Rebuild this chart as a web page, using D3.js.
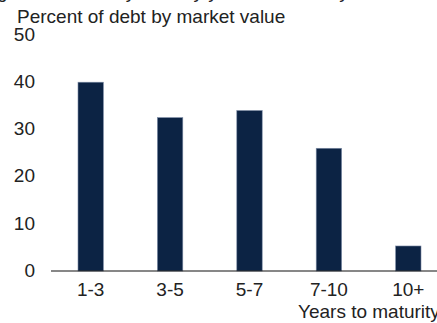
<!DOCTYPE html>
<html>
<head>
<meta charset="utf-8">
<script src="https://cdn.jsdelivr.net/npm/d3@7"></script>
<style>
  body { margin: 0; background: #fff; }
  svg { display: block; font-family: "Liberation Sans", Arial, sans-serif; }
</style>
</head>
<body>
<div id="chart"></div>
<script>
// data
var categories = ["1-3", "3-5", "5-7", "7-10", "10+"];
var values = [40, 32.5, 34, 26, 5.3];
var yTicks = [0, 10, 20, 30, 40, 50];

var width = 437, height = 323;
var barFill = "#0c2344"; // dark navy
var textFill = "#222";

var svg = d3.select("#chart").append("svg")
  .attr("width", width)
  .attr("height", height);

// plot runs past the right edge, like the source
var x = d3.scaleBand()
  .domain(categories)
  .range([51, 448])
  .paddingInner(0.68)
  .paddingOuter(0.34);

var y = d3.scaleLinear()
  .domain([0, 50])
  .range([271, 35]);

// clipped title line at the very top, only descenders show
svg.append("text")
  .attr("x", -3)
  .attr("y", -2)
  .attr("font-size", "19px")
  .attr("fill", textFill)
  .text("gure 3. Treasury debt by years to maturity");

svg.append("text")
  .attr("x", 17)
  .attr("y", 23)
  .attr("font-size", "19px")
  .attr("fill", textFill)
  .text("Percent of debt by market value");

// y labels, no axis line
svg.selectAll("text.ytick")
  .data(yTicks)
  .enter()
  .append("text")
  .attr("class", "ytick")
  .attr("x", 35)
  .attr("y", d => y(d))
  .attr("dy", "0.3em")
  .attr("text-anchor", "end")
  .attr("font-size", "19px")
  .attr("fill", textFill)
  .text(d => d);

svg.selectAll("rect.bar")
  .data(values)
  .enter()
  .append("rect")
  .attr("class", "bar")
  .attr("x", (d, i) => x(categories[i]))
  .attr("y", d => y(d))
  .attr("width", x.bandwidth())
  .attr("height", d => y(0) - y(d))
  .attr("fill", barFill)
  .attr("stroke", "#7d8ca6")
  .attr("stroke-width", 0.6);

// baseline
svg.append("line")
  .attr("x1", 51)
  .attr("x2", width)
  .attr("y1", y(0))
  .attr("y2", y(0))
  .attr("stroke", "#111")
  .attr("stroke-width", 1.2);

svg.selectAll("text.xtick")
  .data(categories)
  .enter()
  .append("text")
  .attr("class", "xtick")
  .attr("x", d => x(d) + x.bandwidth() / 2)
  .attr("y", 296)
  .attr("text-anchor", "middle")
  .attr("font-size", "19px")
  .attr("fill", textFill)
  .text(d => d);

svg.append("text")
  .attr("x", 298)
  .attr("y", 318)
  .attr("font-size", "19px")
  .attr("fill", textFill)
  .text("Years to maturity");
</script>
</body>
</html>
